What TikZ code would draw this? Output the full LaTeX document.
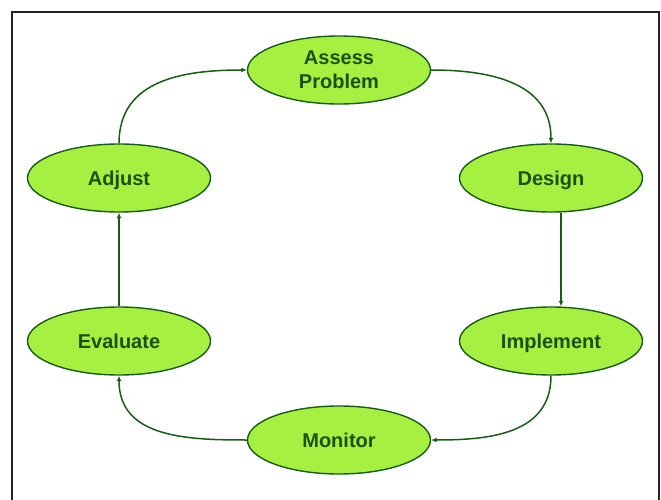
\documentclass[tikz,border=0pt]{standalone}
\usepackage{fontspec}
\setmainfont{Liberation Sans}
\usetikzlibrary{shapes.geometric,arrows.meta}
\definecolor{leaf}{RGB}{166,240,66}
\definecolor{edge}{RGB}{24,92,24}
\definecolor{txt}{RGB}{26,82,22}
\definecolor{frame}{RGB}{35,35,35}
\tikzset{
  stagebase/.style={ellipse, draw=edge, line width=1.4pt, fill=leaf,
    minimum width=183pt, minimum height=68pt, inner sep=0pt,
    text=txt, font=\fontsize{20}{24}\selectfont\bfseries, align=center},
  stage/.style={stagebase, text height=14pt, text depth=0pt},
  flow/.style={draw=edge, line width=1.5pt, -{Latex[length=5.5pt,width=5pt]}},
}
\begin{document}
\begin{tikzpicture}[x=1pt,y=-1pt]
\useasboundingbox (0,0) rectangle (661,500);
\draw[frame, line width=2.2pt] (12,500) -- (12,12) -- (659,12) -- (659,500);
\node[stagebase] (P) at (339,70) {Assess\\Problem};
\node[stage] (D) at (551,178) {Design};
\node[stage] (I) at (551,341) {Implement};
\node[stage] (M) at (339,440) {Monitor};
\node[stage] (E) at (119,341) {Evaluate};
\node[stage] (A) at (119,178) {Adjust};
\draw[flow] (P.east) to[out=0,in=90,looseness=1.1] (D.north);
\draw[flow] ([xshift=10pt]D.south) -- ([xshift=10pt]I.north);
\draw[flow] (I.south) to[out=-90,in=0,looseness=1.1] (M.east);
\draw[flow] (M.west) to[out=180,in=-90,looseness=1.1] (E.south);
\draw[flow] (E.north) -- (A.south);
\draw[flow] (A.north) to[out=90,in=180,looseness=1.1] (P.west);
\end{tikzpicture}
\end{document}
